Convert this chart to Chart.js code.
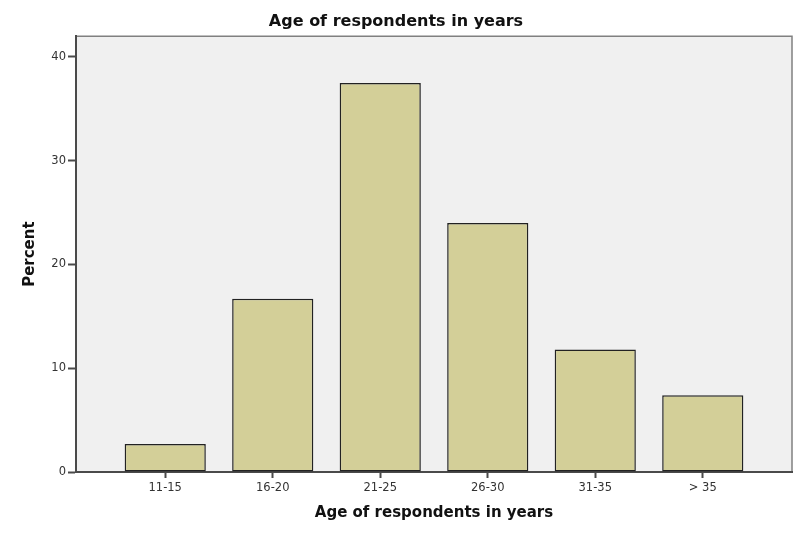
<!DOCTYPE html>
<html>
<head>
<meta charset="utf-8">
<script src="https://cdn.jsdelivr.net/npm/chart.js@4/dist/chart.umd.min.js"></script>
<style>
  html, body { margin: 0; padding: 0; background: #ffffff; }
  #wrap { width: 800px; height: 533px; }
</style>
</head>
<body>
<div id="wrap"><canvas id="ageChart"></canvas></div>
<script>
const ageGroups = ["11-15", "16-20", "21-25", "26-30", "31-35", "> 35"];
const percentValues = [2.7, 16.7, 37.5, 24.0, 11.8, 7.4];
const percentTicks = [0, 10, 20, 30, 40];

const fontFamily = "'DejaVu Sans', Verdana, sans-serif";
const axisColor = "#4a4a4a";
const tickColor = "#333333";

const plotFrame = {
  id: "plotFrame",
  beforeDraw(chart) {
    const { ctx, chartArea } = chart;
    ctx.save();
    ctx.fillStyle = "#f0f0f0";
    ctx.fillRect(chartArea.left, chartArea.top, chartArea.right - chartArea.left, chartArea.bottom - chartArea.top);
    ctx.strokeStyle = "#808080";
    ctx.lineWidth = 1.5;
    ctx.beginPath();
    ctx.moveTo(chartArea.left, chartArea.top);
    ctx.lineTo(chartArea.right, chartArea.top);
    ctx.lineTo(chartArea.right, chartArea.bottom);
    ctx.stroke();
    ctx.restore();
  }
};

new Chart(document.getElementById("ageChart"), {
  type: "bar",
  data: {
    datasets: [
      {
        label: "Percent",
        data: ageGroups.map((group, i) => ({ x: i, y: percentValues[i] })),
        backgroundColor: "#d3cf98",
        borderColor: "#222222",
        borderWidth: 1.5,
        borderSkipped: false,
        barPercentage: 0.755,
        categoryPercentage: 1
      }
    ]
  },
  options: {
    responsive: true,
    maintainAspectRatio: false,
    animation: false,
    layout: {
      padding: { left: 0, right: 8, top: 0, bottom: 0 }
    },
    plugins: {
      legend: { display: false },
      tooltip: { enabled: false },
      title: {
        display: true,
        text: "Age of respondents in years",
        color: "#111111",
        font: { family: fontFamily, size: 16, weight: "bold" },
        padding: { top: 12, bottom: 5 }
      }
    },
    scales: {
      x: {
        type: "linear",
        offset: false,
        min: -0.83,
        max: 5.83,
        afterFit(scale) {
          scale.height = 61;
        },
        grid: {
          offset: false,
          drawOnChartArea: false,
          drawTicks: true,
          tickLength: 6,
          tickWidth: 2,
          color: axisColor
        },
        border: { display: true, color: axisColor, width: 2 },
        ticks: {
          stepSize: 1,
          includeBounds: false,
          autoSkip: false,
          maxRotation: 0,
          color: tickColor,
          padding: 3,
          font: { family: fontFamily, size: 11.5 },
          callback(value) {
            return Number.isInteger(value) ? ageGroups[value] : "";
          }
        },
        title: {
          display: true,
          text: "Age of respondents in years",
          color: "#111111",
          font: { family: fontFamily, size: 15, weight: "bold" },
          padding: { top: 0, bottom: 11 }
        }
      },
      y: {
        min: 0,
        max: 42,
        afterFit(scale) {
          scale.width = 76;
        },
        afterBuildTicks(scale) {
          scale.ticks = percentTicks.map(value => ({ value }));
        },
        grid: {
          drawOnChartArea: false,
          drawTicks: true,
          tickLength: 8,
          tickWidth: 2,
          color: axisColor
        },
        border: { display: true, color: axisColor, width: 2 },
        ticks: {
          stepSize: 10,
          includeBounds: false,
          color: tickColor,
          padding: 2,
          font: { family: fontFamily, size: 11.5 }
        },
        title: {
          display: true,
          text: "Percent",
          color: "#111111",
          font: { family: fontFamily, size: 15, weight: "bold" },
          padding: { top: 21, bottom: 0 }
        }
      }
    }
  },
  plugins: [plotFrame]
});
</script>
</body>
</html>
